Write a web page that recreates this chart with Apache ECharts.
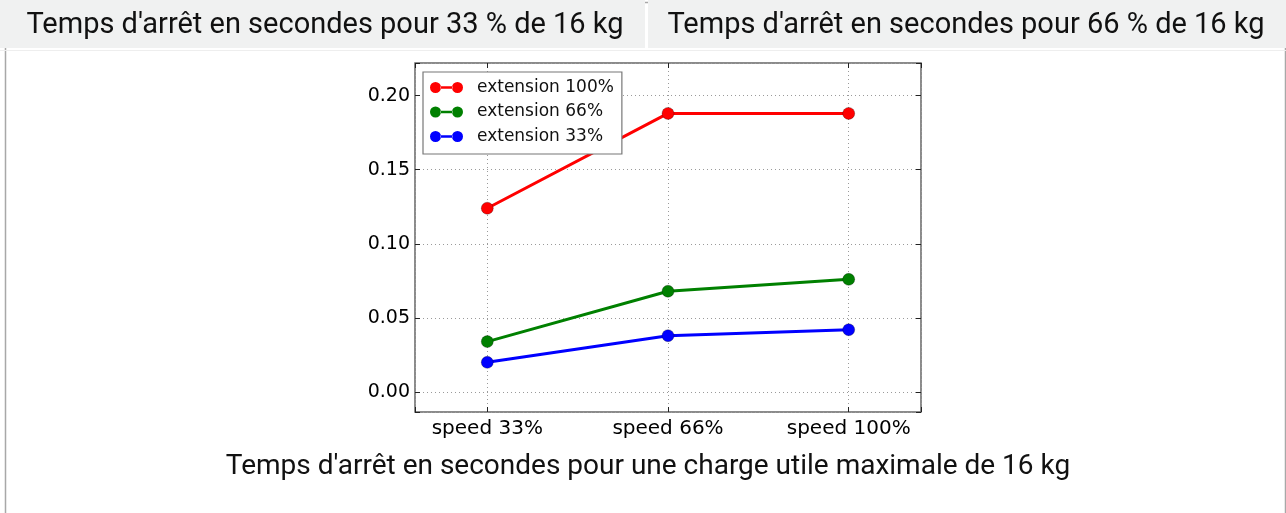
<!DOCTYPE html>
<html>
<head>
<meta charset="utf-8">
<script src="https://cdn.jsdelivr.net/npm/echarts@6/dist/echarts.min.js"></script>
<style>
  html, body { margin: 0; padding: 0; background: #ffffff; }
  #chart { width: 1286px; height: 513px; }
</style>
</head>
<body>
<div id="chart"></div>
<script>
// Stopping time (seconds) per speed setting, one line per arm extension
const categories = ['speed 33%', 'speed 66%', 'speed 100%'];
const seriesNames = ['extension 100%', 'extension 66%', 'extension 33%'];
const ext100 = [0.124, 0.188, 0.188];
const ext66 = [0.034, 0.068, 0.076];
const ext33 = [0.020, 0.038, 0.042];
const tabTitles = [
  "Temps d'arrêt en secondes pour 33 % de 16 kg",
  "Temps d'arrêt en secondes pour 66 % de 16 kg"
];
const caption = "Temps d'arrêt en secondes pour une charge utile maximale de 16 kg";

const colors = ['#ff0000', '#008000', '#0000ff'];
const values = [ext100, ext66, ext33];

const W = 1286, H = 513;
const plotLeft = 415, plotTop = 63, plotRight = 921, plotBottom = 412;
const yMin = -0.0135, yMax = 0.222;
const xMin = -0.4, xMax = 2.4;

const isStep = (v, step) => Math.abs(v / step - Math.round(v / step)) < 1e-6;

// Legend glyph: two dots joined by a short line
const legendIcon = 'path://M0,5.5a5.5,5.5 0 1,0 11,0a5.5,5.5 0 1,0 -11,0Z M22,5.5a5.5,5.5 0 1,0 11,0a5.5,5.5 0 1,0 -11,0Z M10.5,4.2L22.5,4.2L22.5,6.8L10.5,6.8Z';

const chart = echarts.init(document.getElementById('chart'), null, { renderer: 'canvas' });

const font = 'DejaVu Sans';
const gridLine = { show: true, lineStyle: { color: '#9a9a9a', width: 1, type: [1, 3] } };
const innerTick = { show: true, inside: true, length: 5, lineStyle: { color: '#222', width: 1 } };
const noLine = { show: false, onZero: false };

const option = {
  animation: false,
  backgroundColor: '#ffffff',
  graphic: [
    // outer frame
    { type: 'rect', left: 3, top: 0, shape: { width: W - 6, height: H }, style: { fill: 'none', stroke: '#a8a8a8', lineWidth: 1.5 }, z: 0 },
    // tab bar
    { type: 'rect', left: 0, top: 0, shape: { width: 645, height: 48 }, style: { fill: '#f0f1f1' }, z: 1 },
    { type: 'rect', left: 648, top: 0, shape: { width: W - 648, height: 48 }, style: { fill: '#f0f1f1' }, z: 1 },
    { type: 'rect', left: 0, top: 50, shape: { width: W, height: 1 }, style: { fill: '#eeeeee' }, z: 1 },
    { type: 'text', x: 325, y: 26, style: { text: tabTitles[0], fill: '#111', font: '29px Roboto', align: 'center', verticalAlign: 'middle' }, z: 2 },
    { type: 'text', x: 966, y: 26, style: { text: tabTitles[1], fill: '#111', font: '29px Roboto', align: 'center', verticalAlign: 'middle' }, z: 2 },
    { type: 'text', x: 648, y: 467, style: { text: caption, fill: '#111', font: '28px Roboto', align: 'center', verticalAlign: 'middle' }, z: 2 }
  ],
  grid: {
    left: plotLeft, top: plotTop, right: W - plotRight, bottom: H - plotBottom,
    show: true, borderColor: '#666', borderWidth: 1.5, backgroundColor: 'transparent'
  },
  legend: {
    orient: 'vertical',
    left: 423, top: 72,
    data: seriesNames,
    icon: legendIcon,
    itemWidth: 33, itemHeight: 11,
    itemGap: 7.5,
    padding: [7, 8, 9, 7],
    backgroundColor: '#ffffff',
    borderColor: '#777', borderWidth: 1.2,
    itemStyle: { borderWidth: 0 },
    textStyle: { fontFamily: font, fontSize: 17, color: '#111', padding: [0, 0, 0, 9] },
    z: 10
  },
  xAxis: [
    {
      type: 'value', min: xMin, max: xMax, minInterval: 1, maxInterval: 1,
      axisLine: noLine,
      axisTick: innerTick,
      splitLine: gridLine,
      axisLabel: {
        margin: 7, fontFamily: font, fontSize: 20, color: '#000',
        formatter: v => (isStep(v, 1) && categories[Math.round(v)] !== undefined) ? categories[Math.round(v)] : ''
      }
    },
    {
      type: 'value', position: 'top', min: xMin, max: xMax, minInterval: 1, maxInterval: 1,
      axisLine: noLine, axisTick: innerTick, splitLine: { show: false }, axisLabel: { show: false }
    }
  ],
  yAxis: [
    {
      type: 'value', min: yMin, max: yMax, minInterval: 0.05, maxInterval: 0.05,
      axisLine: noLine,
      axisTick: innerTick,
      splitLine: gridLine,
      axisLabel: {
        margin: 5, fontFamily: font, fontSize: 19, color: '#000',
        formatter: v => isStep(v, 0.05) ? v.toFixed(2) : ''
      }
    },
    {
      type: 'value', position: 'right', min: yMin, max: yMax, minInterval: 0.05, maxInterval: 0.05,
      axisLine: noLine, axisTick: innerTick, splitLine: { show: false }, axisLabel: { show: false }
    }
  ],
  series: seriesNames.map((name, i) => ({
    name,
    type: 'line',
    data: values[i].map((v, k) => [k, v]),
    symbol: 'circle',
    symbolSize: 12,
    lineStyle: { color: colors[i], width: 3 },
    itemStyle: { color: colors[i], borderColor: 'rgba(0,0,0,0.45)', borderWidth: 0.6 },
    z: 3 - i
  }))
};

chart.setOption(option);
</script>
</body>
</html>
